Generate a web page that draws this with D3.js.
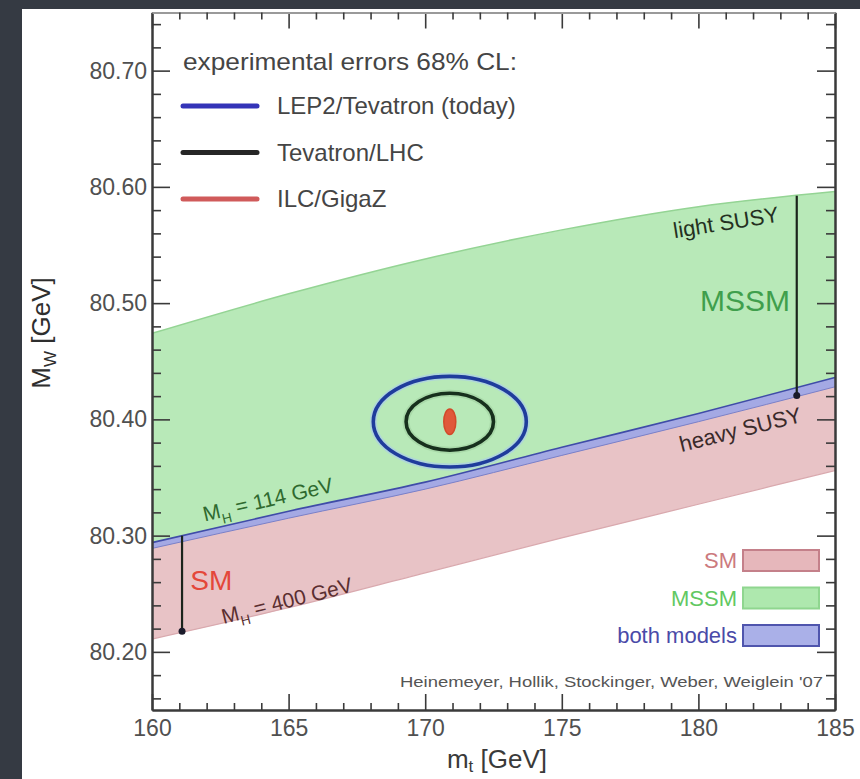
<!DOCTYPE html>
<html>
<head>
<meta charset="utf-8">
<script src="https://cdn.jsdelivr.net/npm/d3@7"></script>
<style>
  html, body { margin: 0; padding: 0; background: #353a43; }
  svg { display: block; font-family: "Liberation Sans", Arial, Helvetica, sans-serif; }
</style>
</head>
<body>
<svg id="chart" width="860" height="779"></svg>
<script>
// Top-quark mass grid (GeV) at which the band edges are given
const mtGrid = [160, 165, 170, 175, 180, 185];
// MSSM band: light-SUSY (upper) and heavy-SUSY (lower) edges, M_W in GeV
const mssmUpper = [80.474, 80.508, 80.538, 80.563, 80.583, 80.596];
const mssmLower = [80.289, 80.315, 80.340, 80.369, 80.398, 80.428];
// SM band: M_H = 114 GeV (upper) and M_H = 400 GeV (lower) edges
const smUpper = [80.294, 80.321, 80.346, 80.376, 80.405, 80.436];
const smLower = [80.211, 80.238, 80.268, 80.298, 80.327, 80.356];

// Experimental 68% CL ellipses around the measured point
const centralMt = 170.9;
const centralMw = 80.398;
const errorNames = ["LEP2/Tevatron (today)", "Tevatron/LHC", "ILC/GigaZ"];
const errorMt = [2.8, 1.6, 0.22];
const errorMw = [0.039, 0.0245, 0.011];
const errorColors = ["#1f3c9c", "#17301d", "#d9502e"];
const legendLineColors = ["#3434b8", "#262626", "#d05a5a"];

// Axis ticks
const mtTicks = [160, 165, 170, 175, 180, 185];
const mtMinor = d3.range(160, 186, 1).filter(v => v % 5 !== 0);
const mwTicks = [80.20, 80.30, 80.40, 80.50, 80.60, 80.70];
const mwMinor = d3.range(80.16, 80.75, 0.02).map(v => +v.toFixed(2)).filter(v => Math.abs(v * 10 - Math.round(v * 10)) > 1e-6);

// Model legend
const modelNames = ["SM", "MSSM", "both models"];
const modelText = ["#cc7a7e", "#62c862", "#4a4aa8"];
const modelFill = ["#e6b7bb", "#aee8ae", "#aab0e8"];
const modelStroke = ["#c4808a", "#8fd68f", "#4f55ad"];

// Arrow positions (m_t) for the SM and MSSM ranges
const smArrowMt = 161.1;
const mssmArrowMt = 183.6;

const svg = d3.select("#chart");
const W = 860, H = 779;

svg.append("rect").attr("width", W).attr("height", H).attr("fill", "#353a43");
svg.append("rect").attr("x", 22).attr("y", 9).attr("width", W - 22).attr("height", H - 9).attr("fill", "#ffffff");

const x = d3.scaleLinear().domain([160, 185]).range([152, 835]);
const y = d3.scaleLinear().domain([80.15, 80.75]).range([710, 12.5]);

const interp = (arr) => d3.scaleLinear().domain(mtGrid).range(arr);
const smUp = interp(smUpper), smLo = interp(smLower);
const msUp = interp(mssmUpper), msLo = interp(mssmLower);

const plot = svg.append("g");
const clip = svg.append("clipPath").attr("id", "pc");
clip.append("rect").attr("x", x(160)).attr("y", y(80.75)).attr("width", x(185) - x(160)).attr("height", y(80.15) - y(80.75));
const bands = plot.append("g").attr("clip-path", "url(#pc)");

const rows = mtGrid.map((m, i) => ({ m, su: smUpper[i], sl: smLower[i], mu: mssmUpper[i], ml: mssmLower[i] }));

// MSSM band (green)
bands.append("path").datum(rows)
  .attr("d", d3.area().curve(d3.curveMonotoneX).x(d => x(d.m)).y0(d => y(d.ml)).y1(d => y(d.mu)))
  .attr("fill", "#b8e9b8");
bands.append("path").datum(rows)
  .attr("d", d3.line().curve(d3.curveMonotoneX).x(d => x(d.m)).y(d => y(d.mu)))
  .attr("fill", "none").attr("stroke", "#94d494").attr("stroke-width", 1.5);

// SM band (pink)
bands.append("path").datum(rows)
  .attr("d", d3.area().curve(d3.curveMonotoneX).x(d => x(d.m)).y0(d => y(d.sl)).y1(d => y(d.su)))
  .attr("fill", "#e8c3c6");
bands.append("path").datum(rows)
  .attr("d", d3.line().curve(d3.curveMonotoneX).x(d => x(d.m)).y(d => y(d.sl)))
  .attr("fill", "none").attr("stroke", "#d9a9ae").attr("stroke-width", 1.2);

// Overlap of both models (blue strip)
bands.append("path").datum(rows)
  .attr("d", d3.area().curve(d3.curveMonotoneX).x(d => x(d.m)).y0(d => y(d.ml)).y1(d => y(d.su)))
  .attr("fill", "#a4a9e4");
bands.append("path").datum(rows)
  .attr("d", d3.line().curve(d3.curveMonotoneX).x(d => x(d.m)).y(d => y(d.su)))
  .attr("fill", "none").attr("stroke", "#3f4ca8").attr("stroke-width", 1.6);
bands.append("path").datum(rows)
  .attr("d", d3.line().curve(d3.curveMonotoneX).x(d => x(d.m)).y(d => y(d.ml)))
  .attr("fill", "none").attr("stroke", "#7a80c8").attr("stroke-width", 1);

// Arrows indicating the SM and MSSM ranges
function rangeArrow(mt, top, bottom) {
  const g = plot.append("g");
  g.append("line").attr("x1", x(mt)).attr("x2", x(mt))
    .attr("y1", y(top)).attr("y2", y(bottom))
    .attr("stroke", "#1b241c").attr("stroke-width", 2.2);
  g.append("circle").attr("cx", x(mt)).attr("cy", y(bottom) - 1).attr("r", 3.5).attr("fill", "#1b1b2b");
}
rangeArrow(smArrowMt, smUp(smArrowMt), smLo(smArrowMt));
rangeArrow(mssmArrowMt, msUp(mssmArrowMt), msLo(mssmArrowMt));

// Error ellipses
const ell = plot.append("g");
errorNames.forEach((name, i) => {
  const rx = x(centralMt + errorMt[i]) - x(centralMt);
  const ry = y(centralMw) - y(centralMw + errorMw[i]);
  if (i === 2) {
    ell.append("ellipse").attr("cx", x(centralMt)).attr("cy", y(centralMw))
      .attr("rx", rx).attr("ry", ry).attr("fill", "#e0583a").attr("stroke", "#d24a2a").attr("stroke-width", 1.5);
  } else {
    ell.append("ellipse").attr("cx", x(centralMt)).attr("cy", y(centralMw))
      .attr("rx", rx).attr("ry", ry).attr("fill", "none")
      .attr("stroke", i === 0 ? "#a9c8f0" : "#9fcf9f").attr("stroke-width", 7).attr("opacity", 0.6);
    ell.append("ellipse").attr("cx", x(centralMt)).attr("cy", y(centralMw))
      .attr("rx", rx).attr("ry", ry).attr("fill", "none")
      .attr("stroke", errorColors[i]).attr("stroke-width", 3.6);
  }
});

// Axes with inward ticks
const axisColor = "#3a3a3a";
function styleAxis(g) {
  g.selectAll("path.domain").attr("stroke", axisColor).attr("stroke-width", 2);
  g.selectAll(".tick line").attr("stroke", axisColor).attr("stroke-width", 1.6);
  g.selectAll(".tick text").attr("fill", "#505050").attr("font-family", "Liberation Sans, Arial, sans-serif");
}
const fmt = d3.format(".2f");

const ax = svg.append("g");
ax.append("g").attr("transform", `translate(${x(160)},0)`)
  .call(d3.axisLeft(y).tickValues(mwTicks).tickFormat(fmt).tickSizeInner(-18).tickSizeOuter(0).tickPadding(5))
  .call(styleAxis).call(g => g.selectAll(".tick text").attr("font-size", 23));
ax.append("g").attr("transform", `translate(${x(160)},0)`)
  .call(d3.axisLeft(y).tickValues(mwMinor).tickFormat("").tickSizeInner(-9).tickSizeOuter(0))
  .call(styleAxis);
ax.append("g").attr("transform", `translate(${x(185)},0)`)
  .call(d3.axisRight(y).tickValues(mwTicks).tickFormat("").tickSizeInner(-18).tickSizeOuter(0))
  .call(styleAxis);
ax.append("g").attr("transform", `translate(${x(185)},0)`)
  .call(d3.axisRight(y).tickValues(mwMinor).tickFormat("").tickSizeInner(-9).tickSizeOuter(0))
  .call(styleAxis);
ax.append("g").attr("transform", `translate(0,${y(80.15)})`)
  .call(d3.axisBottom(x).tickValues(mtTicks).tickFormat(d3.format("d")).tickSizeInner(-16).tickSizeOuter(0).tickPadding(10))
  .call(styleAxis).call(g => g.selectAll(".tick text").attr("font-size", 23));
ax.append("g").attr("transform", `translate(0,${y(80.15)})`)
  .call(d3.axisBottom(x).tickValues(mtMinor).tickFormat("").tickSizeInner(-7).tickSizeOuter(0))
  .call(styleAxis);
ax.append("g").attr("transform", `translate(0,${y(80.75)})`)
  .call(d3.axisTop(x).tickValues(mtTicks).tickFormat("").tickSizeInner(-16).tickSizeOuter(0))
  .call(styleAxis).call(g => g.select("path.domain").attr("stroke", "#9a9a9a"));
ax.append("g").attr("transform", `translate(0,${y(80.75)})`)
  .call(d3.axisTop(x).tickValues(mtMinor).tickFormat("").tickSizeInner(-7).tickSizeOuter(0))
  .call(styleAxis).call(g => g.select("path.domain").attr("stroke", "#9a9a9a"));

// Axis titles
const xt = svg.append("text").attr("x", 497).attr("y", 768).attr("text-anchor", "middle")
  .attr("font-size", 26).attr("fill", "#3a3a3a");
xt.append("tspan").text("m");
xt.append("tspan").attr("font-size", 17).attr("dy", 4).text("t");
xt.append("tspan").attr("dy", -4).text(" [GeV]");

const yt = svg.append("text").attr("transform", "translate(50,333) rotate(-90)").attr("text-anchor", "middle")
  .attr("font-size", 26).attr("fill", "#2e2e2e");
yt.append("tspan").text("M");
yt.append("tspan").attr("font-size", 17).attr("dy", 6).text("W");
yt.append("tspan").attr("dy", -6).text(" [GeV]");

// Experimental-error legend (top left)
const leg = svg.append("g").attr("font-size", 24).attr("fill", "#454545");
leg.append("text").attr("x", 183).attr("y", 70).attr("textLength", 334).attr("lengthAdjust", "spacingAndGlyphs")
  .text("experimental errors 68% CL:");
errorNames.forEach((name, i) => {
  const yy = 106 + i * 46.5;
  leg.append("line").attr("x1", 183).attr("x2", 257).attr("y1", yy).attr("y2", yy)
    .attr("stroke", legendLineColors[i]).attr("stroke-width", 5).attr("stroke-linecap", "round");
  leg.append("text").attr("x", 277).attr("y", yy + 8).text(name);
});

// Model legend (bottom right)
const ml = svg.append("g").attr("font-size", 22);
modelNames.forEach((name, i) => {
  const yy = 550 + i * 37.5;
  ml.append("rect").attr("x", 743).attr("y", yy).attr("width", 76).attr("height", 21)
    .attr("fill", modelFill[i]).attr("stroke", modelStroke[i]).attr("stroke-width", 2);
  ml.append("text").attr("x", 737).attr("y", yy + 18).attr("text-anchor", "end")
    .attr("fill", modelText[i]).text(name);
});

// Band annotations
function subLabel(tx, ty, angle, size, color, main, sub, rest) {
  const t = svg.append("text").attr("transform", `translate(${tx},${ty}) rotate(${angle})`)
    .attr("font-size", size).attr("fill", color).attr("text-anchor", "middle");
  t.append("tspan").text(main);
  t.append("tspan").attr("font-size", size * 0.65).attr("dy", size * 0.3).text(sub);
  t.append("tspan").attr("dy", -size * 0.3).text(rest);
}
subLabel(x(164.3), y(80.325), -13, 21, "#2f6a2f", "M", "H", " = 114 GeV");
subLabel(x(165.0), y(80.238), -14, 21, "#5a2e30", "M", "H", " = 400 GeV");

svg.append("text").attr("x", x(161.4)).attr("y", y(80.253)).attr("font-size", 28).attr("fill", "#e4473a").text("SM");
svg.append("text").attr("x", 790).attr("y", 311).attr("text-anchor", "end").attr("font-size", 30).attr("fill", "#3f9f4c").text("MSSM");
svg.append("text").attr("transform", `translate(${x(181.05)},${y(80.563)}) rotate(-9)`).attr("text-anchor", "middle")
  .attr("font-size", 22).attr("fill", "#24301f").text("light SUSY");
svg.append("text").attr("transform", `translate(${x(181.6)},${y(80.385)}) rotate(-14)`).attr("text-anchor", "middle")
  .attr("font-size", 22).attr("fill", "#3a2a2a").text("heavy SUSY");

// Credit line
svg.append("text").attr("x", 400).attr("y", 687).attr("font-size", 14).attr("fill", "#555")
  .attr("textLength", 423).attr("lengthAdjust", "spacingAndGlyphs")
  .text("Heinemeyer, Hollik, Stockinger, Weber, Weiglein '07");
</script>
</body>
</html>
